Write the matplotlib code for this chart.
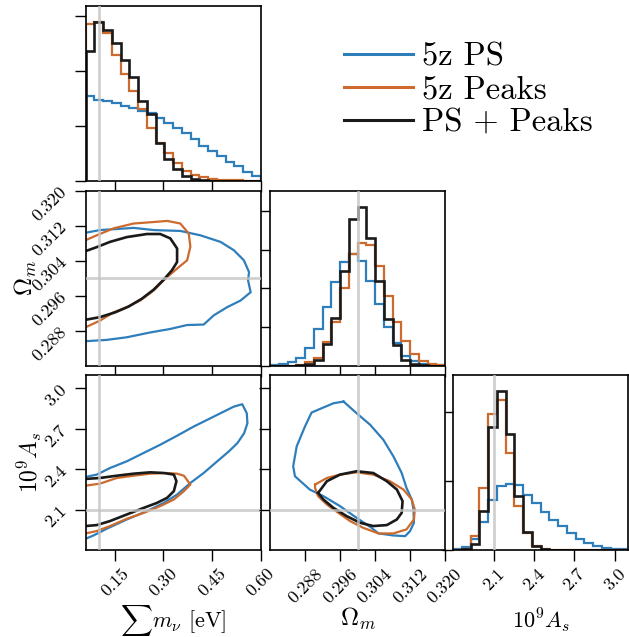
import numpy as np
import matplotlib.pyplot as plt
from matplotlib.lines import Line2D
from matplotlib.ticker import MaxNLocator

plt.rcParams['font.family'] = 'serif'
plt.rcParams['font.serif'] = ['cmr10']
plt.rcParams['mathtext.fontset'] = 'cm'
plt.rcParams['axes.formatter.use_mathtext'] = True

# chains
chain_names = ['5z PS', '5z Peaks', 'PS + Peaks']
chain_colors = ['#2f7ebc', '#cd6a2d', '#1a1a1a']

# parameter ranges and fiducial values
mnu_range = (0.06, 0.60)
om_range = (0.28, 0.32)
as_range = (1.8, 3.1)
truth_mnu = 0.1
truth_om = 0.3
truth_as = 2.1
n_bins = 20

# tick positions / labels
mnu_ticks = [0.15, 0.30, 0.45, 0.60]
mnu_ticklabels = ['0.15', '0.30', '0.45', '0.60']
om_ticks = [0.288, 0.296, 0.304, 0.312, 0.320]
om_ticklabels = ['0.288', '0.296', '0.304', '0.312', '0.320']
as_ticks = [2.1, 2.4, 2.7, 3.0]
as_ticklabels = ['2.1', '2.4', '2.7', '3.0']

# marginal posteriors (density per bin)
mnu_hist_ps = [3.07, 2.95, 2.89, 2.81, 2.73, 2.65, 2.53, 2.47, 2.29, 2.11,
               1.93, 1.75, 1.51, 1.27, 1.08, 0.90, 0.69, 0.54, 0.33, 0.18]
mnu_hist_peaks = [5.70, 5.75, 5.36, 4.58, 3.89, 3.25, 2.59, 1.93, 1.36, 1.00,
                  0.66, 0.36, 0.20, 0.12, 0.06, 0.04, 0.02, 0.01, 0.0, 0.0]
mnu_hist_comb = [4.70, 5.78, 5.48, 5.00, 4.40, 3.77, 2.89, 2.41, 1.36, 0.78,
                 0.42, 0.18, 0.06, 0.02, 0.0, 0.0, 0.0, 0.0, 0.0, 0.0]

om_hist_ps = [0.2, 1.1, 2.5, 5.0, 11.5, 23.7, 38.3, 53.9, 67.2, 72.2,
              67.6, 55.0, 40.2, 25.0, 15.0, 6.5, 3.2, 1.1, 0.4, 0.2]
om_hist_peaks = [0.0, 0.0, 0.0, 0.4, 2.2, 4.7, 15.1, 28.0, 50.6, 72.6,
                 79.7, 78.0, 64.7, 45.3, 28.0, 16.2, 7.5, 3.2, 1.1, 0.4]
om_hist_comb = [0.0, 0.0, 0.0, 0.4, 0.8, 3.5, 14.0, 31.2, 61.0, 94.8,
                103.0, 83.0, 55.0, 30.2, 13.4, 3.9, 1.1, 0.2, 0.0, 0.0]

as_hist_ps = [0.02, 0.10, 0.31, 0.81, 1.46, 1.85, 1.92, 1.89, 1.61, 1.37,
              1.10, 0.88, 0.69, 0.50, 0.33, 0.21, 0.12, 0.07, 0.04, 0.02]
as_hist_peaks = [0.0, 0.04, 0.40, 1.80, 3.94, 4.37, 2.81, 1.29, 0.48, 0.12,
                 0.04, 0.0, 0.0, 0.0, 0.0, 0.0, 0.0, 0.0, 0.0, 0.0]
as_hist_comb = [0.0, 0.02, 0.16, 1.12, 3.58, 4.62, 3.38, 1.58, 0.53, 0.12,
                0.02, 0.0, 0.0, 0.0, 0.0, 0.0, 0.0, 0.0, 0.0, 0.0]

# 2D credible contours (mnu, Om)
mnu_om_ps_x = [0.060, 0.104, 0.208, 0.270, 0.352, 0.414, 0.476, 0.517, 0.548, 0.564, 0.561,
               0.569, 0.538, 0.497, 0.455, 0.424, 0.373, 0.321, 0.259, 0.187, 0.125, 0.060]
mnu_om_ps_y = [0.3104, 0.3110, 0.3115, 0.3110, 0.3108, 0.3098, 0.3083, 0.3064, 0.3041, 0.3014, 0.2995,
               0.2968, 0.2949, 0.2934, 0.2915, 0.2894, 0.2893, 0.2884, 0.2876, 0.2865, 0.2859, 0.2856]
mnu_om_peaks_x = [0.060, 0.094, 0.146, 0.208, 0.280, 0.311, 0.352, 0.378, 0.383,
                  0.373, 0.342, 0.306, 0.270, 0.228, 0.187, 0.146, 0.104, 0.060]
mnu_om_peaks_y = [0.3087, 0.3098, 0.3114, 0.3125, 0.3129, 0.3131, 0.3125, 0.3102, 0.3072,
                  0.3041, 0.3022, 0.2999, 0.2972, 0.2949, 0.2934, 0.2922, 0.2903, 0.2888]
mnu_om_comb_x = [0.060, 0.094, 0.135, 0.187, 0.249, 0.290, 0.321, 0.342, 0.342,
                 0.326, 0.301, 0.270, 0.233, 0.192, 0.151, 0.104, 0.060]
mnu_om_comb_y = [0.3062, 0.3071, 0.3083, 0.3094, 0.3101, 0.3101, 0.3091, 0.3068, 0.3037,
                 0.3018, 0.2997, 0.2974, 0.2953, 0.2935, 0.2922, 0.2911, 0.2905]

# 2D credible contours (mnu, As)
mnu_as_ps_x = [0.060, 0.094, 0.135, 0.187, 0.238, 0.290, 0.342, 0.394, 0.435, 0.476, 0.517, 0.543,
               0.557, 0.559, 0.549, 0.528, 0.502, 0.466, 0.424, 0.383, 0.342, 0.301, 0.249,
               0.187, 0.125, 0.084, 0.060]
mnu_as_ps_y = [2.343, 2.360, 2.409, 2.459, 2.520, 2.582, 2.649, 2.718, 2.767, 2.816, 2.865, 2.883,
               2.816, 2.742, 2.668, 2.594, 2.533, 2.459, 2.372, 2.298, 2.212, 2.150, 2.089,
               2.027, 1.958, 1.908, 1.884]
mnu_as_peaks_x = [0.060, 0.104, 0.156, 0.208, 0.259, 0.311, 0.342, 0.363, 0.383,
                  0.363, 0.332, 0.290, 0.239, 0.187, 0.135, 0.094, 0.060]
mnu_as_peaks_y = [2.278, 2.293, 2.335, 2.352, 2.367, 2.372, 2.367, 2.352, 2.286,
                  2.237, 2.175, 2.126, 2.076, 2.032, 1.978, 1.941, 1.923]
mnu_as_comb_x = [0.060, 0.104, 0.156, 0.208, 0.259, 0.301, 0.332, 0.340,
                 0.332, 0.311, 0.280, 0.239, 0.187, 0.135, 0.094, 0.060]
mnu_as_comb_y = [2.328, 2.335, 2.352, 2.367, 2.377, 2.372, 2.360, 2.311,
                 2.237, 2.187, 2.150, 2.113, 2.064, 2.015, 1.985, 1.978]

# 2D credible contours (Om, As)
om_as_ps_x = [0.2968, 0.2998, 0.3029, 0.3059, 0.3082, 0.3101, 0.3112, 0.3124, 0.3128, 0.3129,
              0.3120, 0.3109, 0.3082, 0.3048, 0.3032, 0.2998, 0.2960, 0.2922, 0.2891, 0.2857,
              0.2853, 0.2861, 0.2880, 0.2895, 0.2918, 0.2945, 0.2968]
om_as_ps_y = [2.903, 2.816, 2.730, 2.619, 2.496, 2.372, 2.261, 2.175, 2.101, 2.002,
              1.940, 1.903, 1.908, 1.923, 1.965, 2.039, 2.126, 2.200, 2.249, 2.348,
              2.422, 2.570, 2.718, 2.821, 2.853, 2.890, 2.903]
om_as_peaks_x = [0.2903, 0.2930, 0.2960, 0.2998, 0.3036, 0.3074, 0.3105, 0.3124, 0.3131, 0.3129,
                 0.3112, 0.3082, 0.3048, 0.3013, 0.2983, 0.2956, 0.2930, 0.2910, 0.2903, 0.2903]
om_as_peaks_y = [2.286, 2.335, 2.360, 2.377, 2.360, 2.311, 2.249, 2.175, 2.101, 2.027,
                 1.953, 1.923, 1.923, 1.965, 2.015, 2.076, 2.138, 2.200, 2.261, 2.286]
om_as_comb_x = [0.2910, 0.2930, 0.2960, 0.2998, 0.3036, 0.3067, 0.3090, 0.3103, 0.3101,
                0.3090, 0.3067, 0.3036, 0.3006, 0.2975, 0.2945, 0.2922, 0.2910]
om_as_comb_y = [2.224, 2.311, 2.360, 2.385, 2.372, 2.311, 2.249, 2.163, 2.076,
                2.027, 1.985, 1.978, 2.002, 2.052, 2.113, 2.175, 2.224]

W, H = 629, 637
fig = plt.figure(figsize=(W / 100, H / 100), dpi=100)
col_x = [85.7, 270.0, 453.2]
row_y = [5.7, 190.7, 375.0]
panel = 175.0

truth_kw = dict(color='#c4c4c4', lw=2.0, alpha=0.8, zorder=5)
tick_fs = 13
label_fs = 16


def add_panel(r, c):
    ax = fig.add_axes([col_x[c] / W, 1 - (row_y[r] + panel) / H, panel / W, panel / H])
    ax.tick_params(direction='out', length=8, width=1.0, labelsize=tick_fs)
    for s in ax.spines.values():
        s.set_linewidth(1.2)
    return ax


def style_x(ax, rng, ticks, ticklabels, show):
    ax.set_xlim(*rng)
    ax.set_xticks(ticks)
    if show:
        ax.set_xticklabels(ticklabels, rotation=45)
    else:
        ax.set_xticklabels([])


def style_y(ax, rng, ticks, ticklabels, show):
    ax.set_ylim(*rng)
    ax.set_yticks(ticks)
    if show:
        ax.set_yticklabels(ticklabels, rotation=45)
    else:
        ax.set_yticklabels([])


def marginal(ax, rng, hists, truth):
    edges = np.linspace(rng[0], rng[1], n_bins + 1)
    top = 0
    for h, col in zip(hists, chain_colors):
        lw = 1.9 if col == chain_colors[-1] else 1.6
        ax.stairs(h, edges, color=col, lw=lw)
        top = max(top, max(h))
    ax.set_ylim(0, 1.1 * top)
    ax.yaxis.set_major_locator(MaxNLocator(5, steps=[1, 2, 2.5, 5, 10]))
    ax.set_yticklabels([])
    ax.axvline(truth, **truth_kw)


def contours(ax, curves, tx, ty):
    for (xs, ys), col in zip(curves, chain_colors):
        lw = 1.9 if col == chain_colors[-1] else 1.6
        ax.plot(xs, ys, color=col, lw=lw)
    ax.axvline(tx, **truth_kw)
    ax.axhline(ty, **truth_kw)


# diagonal
ax00 = add_panel(0, 0)
marginal(ax00, mnu_range, [mnu_hist_ps, mnu_hist_peaks, mnu_hist_comb], truth_mnu)
style_x(ax00, mnu_range, mnu_ticks, mnu_ticklabels, False)

ax11 = add_panel(1, 1)
marginal(ax11, om_range, [om_hist_ps, om_hist_peaks, om_hist_comb], truth_om)
style_x(ax11, om_range, om_ticks, om_ticklabels, False)

ax22 = add_panel(2, 2)
marginal(ax22, as_range, [as_hist_ps, as_hist_peaks, as_hist_comb], truth_as)
style_x(ax22, as_range, as_ticks, as_ticklabels, True)

# off-diagonal
ax10 = add_panel(1, 0)
contours(ax10, [(mnu_om_ps_x, mnu_om_ps_y), (mnu_om_peaks_x, mnu_om_peaks_y),
                (mnu_om_comb_x, mnu_om_comb_y)], truth_mnu, truth_om)
style_x(ax10, mnu_range, mnu_ticks, mnu_ticklabels, False)
style_y(ax10, om_range, om_ticks, om_ticklabels, True)

ax20 = add_panel(2, 0)
contours(ax20, [(mnu_as_ps_x, mnu_as_ps_y), (mnu_as_peaks_x, mnu_as_peaks_y),
                (mnu_as_comb_x, mnu_as_comb_y)], truth_mnu, truth_as)
style_x(ax20, mnu_range, mnu_ticks, mnu_ticklabels, True)
style_y(ax20, as_range, as_ticks, as_ticklabels, True)

ax21 = add_panel(2, 1)
contours(ax21, [(om_as_ps_x, om_as_ps_y), (om_as_peaks_x, om_as_peaks_y),
                (om_as_comb_x, om_as_comb_y)], truth_om, truth_as)
style_x(ax21, om_range, om_ticks, om_ticklabels, True)
style_y(ax21, as_range, as_ticks, as_ticklabels, False)

# axis labels
ax10.set_ylabel(r'$\Omega_m$', fontsize=label_fs + 2)
ax10.yaxis.set_label_coords(-0.265, 0.5)
ax20.set_ylabel(r'$10^9A_s$', fontsize=label_fs + 1)
ax20.yaxis.set_label_coords(-0.24, 0.5)
ax20.set_xlabel(r'$\sum m_\nu$ [eV]', fontsize=label_fs)
ax21.set_xlabel(r'$\Omega_m$', fontsize=label_fs + 2)
ax22.set_xlabel(r'$10^9A_s$', fontsize=label_fs)
ax20.xaxis.set_label_coords(0.5, -0.30)
ax21.xaxis.set_label_coords(0.5, -0.32)
ax22.xaxis.set_label_coords(0.5, -0.32)

handles = [Line2D([], [], color=c, lw=2.2) for c in chain_colors]
fig.legend(handles, chain_names, loc='upper left', bbox_to_anchor=(344 / W, 1 - 42 / H),
           frameon=False, fontsize=23.5, handlelength=2.1, handletextpad=0.3,
           labelspacing=0.12, borderpad=0, borderaxespad=0)

fig.savefig('out.png', dpi=100)
